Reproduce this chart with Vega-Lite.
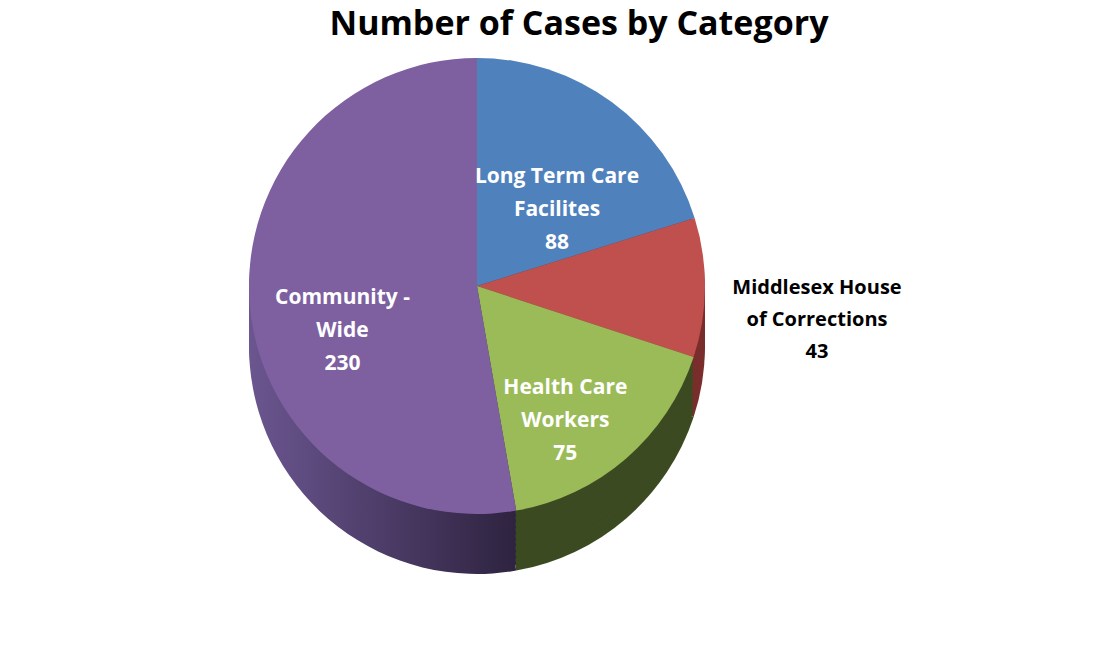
{
  "$schema": "https://vega.github.io/schema/vega-lite/v6.json",
  "width": 954,
  "height": 452,
  "autosize": "none",
  "padding": {"left": 0, "top": 60, "right": 166, "bottom": 138},
  "background": "white",
  "config": {"view": {"stroke": null}},
  "title": {
    "text": "Number of Cases by Category",
    "font": "Open Sans",
    "fontSize": 34,
    "fontWeight": "bold",
    "color": "#000000",
    "dx": 102,
    "dy": 60,
    "offset": 20
  },
  "data": {
    "values": [
      {"category": "Long Term Care Facilites", "cases": 88, "order": 1, "label": "Long Term Care\nFacilites\n88"},
      {"category": "Middlesex House of Corrections", "cases": 43, "order": 2, "label": "Middlesex House\nof Corrections\n43"},
      {"category": "Health Care Workers", "cases": 75, "order": 3, "label": "Health Care\nWorkers\n75"},
      {"category": "Community - Wide", "cases": 230, "order": 4, "label": "Community -\nWide\n230"}
    ]
  },
  "encoding": {
    "theta": {"field": "cases", "type": "quantitative", "stack": true},
    "order": {"field": "order", "type": "quantitative"}
  },
  "layer": [
    {"mark": {"type": "arc", "radius": 228, "yOffset": 60}, "encoding": {"color": {"condition": {"test": "datum.category === 'Community - Wide'", "value": {"gradient": "linear", "x1": 0, "y1": 0, "x2": 1, "y2": 0, "stops": [{"offset": 0, "color": "#6b5690"}, {"offset": 1, "color": "#2e2340"}]}}, "field": "category", "type": "nominal", "legend": null, "scale": {"domain": ["Long Term Care Facilites", "Middlesex House of Corrections", "Health Care Workers", "Community - Wide"], "range": ["#2c4a6e", "#7a2e2c", "#3c4a21", "#4a3a66"]}}}},
    {"mark": {"type": "arc", "radius": 228, "yOffset": 54}, "encoding": {"color": {"condition": {"test": "datum.category === 'Community - Wide'", "value": {"gradient": "linear", "x1": 0, "y1": 0, "x2": 1, "y2": 0, "stops": [{"offset": 0, "color": "#6b5690"}, {"offset": 1, "color": "#2e2340"}]}}, "field": "category", "type": "nominal", "legend": null, "scale": {"domain": ["Long Term Care Facilites", "Middlesex House of Corrections", "Health Care Workers", "Community - Wide"], "range": ["#2c4a6e", "#7a2e2c", "#3c4a21", "#4a3a66"]}}}},
    {"mark": {"type": "arc", "radius": 228, "yOffset": 48}, "encoding": {"color": {"condition": {"test": "datum.category === 'Community - Wide'", "value": {"gradient": "linear", "x1": 0, "y1": 0, "x2": 1, "y2": 0, "stops": [{"offset": 0, "color": "#6b5690"}, {"offset": 1, "color": "#2e2340"}]}}, "field": "category", "type": "nominal", "legend": null, "scale": {"domain": ["Long Term Care Facilites", "Middlesex House of Corrections", "Health Care Workers", "Community - Wide"], "range": ["#2c4a6e", "#7a2e2c", "#3c4a21", "#4a3a66"]}}}},
    {"mark": {"type": "arc", "radius": 228, "yOffset": 42}, "encoding": {"color": {"condition": {"test": "datum.category === 'Community - Wide'", "value": {"gradient": "linear", "x1": 0, "y1": 0, "x2": 1, "y2": 0, "stops": [{"offset": 0, "color": "#6b5690"}, {"offset": 1, "color": "#2e2340"}]}}, "field": "category", "type": "nominal", "legend": null, "scale": {"domain": ["Long Term Care Facilites", "Middlesex House of Corrections", "Health Care Workers", "Community - Wide"], "range": ["#2c4a6e", "#7a2e2c", "#3c4a21", "#4a3a66"]}}}},
    {"mark": {"type": "arc", "radius": 228, "yOffset": 36}, "encoding": {"color": {"condition": {"test": "datum.category === 'Community - Wide'", "value": {"gradient": "linear", "x1": 0, "y1": 0, "x2": 1, "y2": 0, "stops": [{"offset": 0, "color": "#6b5690"}, {"offset": 1, "color": "#2e2340"}]}}, "field": "category", "type": "nominal", "legend": null, "scale": {"domain": ["Long Term Care Facilites", "Middlesex House of Corrections", "Health Care Workers", "Community - Wide"], "range": ["#2c4a6e", "#7a2e2c", "#3c4a21", "#4a3a66"]}}}},
    {"mark": {"type": "arc", "radius": 228, "yOffset": 30}, "encoding": {"color": {"condition": {"test": "datum.category === 'Community - Wide'", "value": {"gradient": "linear", "x1": 0, "y1": 0, "x2": 1, "y2": 0, "stops": [{"offset": 0, "color": "#6b5690"}, {"offset": 1, "color": "#2e2340"}]}}, "field": "category", "type": "nominal", "legend": null, "scale": {"domain": ["Long Term Care Facilites", "Middlesex House of Corrections", "Health Care Workers", "Community - Wide"], "range": ["#2c4a6e", "#7a2e2c", "#3c4a21", "#4a3a66"]}}}},
    {"mark": {"type": "arc", "radius": 228, "yOffset": 24}, "encoding": {"color": {"condition": {"test": "datum.category === 'Community - Wide'", "value": {"gradient": "linear", "x1": 0, "y1": 0, "x2": 1, "y2": 0, "stops": [{"offset": 0, "color": "#6b5690"}, {"offset": 1, "color": "#2e2340"}]}}, "field": "category", "type": "nominal", "legend": null, "scale": {"domain": ["Long Term Care Facilites", "Middlesex House of Corrections", "Health Care Workers", "Community - Wide"], "range": ["#2c4a6e", "#7a2e2c", "#3c4a21", "#4a3a66"]}}}},
    {"mark": {"type": "arc", "radius": 228, "yOffset": 18}, "encoding": {"color": {"condition": {"test": "datum.category === 'Community - Wide'", "value": {"gradient": "linear", "x1": 0, "y1": 0, "x2": 1, "y2": 0, "stops": [{"offset": 0, "color": "#6b5690"}, {"offset": 1, "color": "#2e2340"}]}}, "field": "category", "type": "nominal", "legend": null, "scale": {"domain": ["Long Term Care Facilites", "Middlesex House of Corrections", "Health Care Workers", "Community - Wide"], "range": ["#2c4a6e", "#7a2e2c", "#3c4a21", "#4a3a66"]}}}},
    {"mark": {"type": "arc", "radius": 228, "yOffset": 12}, "encoding": {"color": {"condition": {"test": "datum.category === 'Community - Wide'", "value": {"gradient": "linear", "x1": 0, "y1": 0, "x2": 1, "y2": 0, "stops": [{"offset": 0, "color": "#6b5690"}, {"offset": 1, "color": "#2e2340"}]}}, "field": "category", "type": "nominal", "legend": null, "scale": {"domain": ["Long Term Care Facilites", "Middlesex House of Corrections", "Health Care Workers", "Community - Wide"], "range": ["#2c4a6e", "#7a2e2c", "#3c4a21", "#4a3a66"]}}}},
    {"mark": {"type": "arc", "radius": 228, "yOffset": 6}, "encoding": {"color": {"condition": {"test": "datum.category === 'Community - Wide'", "value": {"gradient": "linear", "x1": 0, "y1": 0, "x2": 1, "y2": 0, "stops": [{"offset": 0, "color": "#6b5690"}, {"offset": 1, "color": "#2e2340"}]}}, "field": "category", "type": "nominal", "legend": null, "scale": {"domain": ["Long Term Care Facilites", "Middlesex House of Corrections", "Health Care Workers", "Community - Wide"], "range": ["#2c4a6e", "#7a2e2c", "#3c4a21", "#4a3a66"]}}}},
    {"mark": {"type": "arc", "radius": 228}, "encoding": {"color": {"field": "category", "type": "nominal", "legend": null, "scale": {"domain": ["Long Term Care Facilites", "Middlesex House of Corrections", "Health Care Workers", "Community - Wide"], "range": ["#4f81bd", "#c0504d", "#9bbb59", "#7e60a0"]}}}},
    {
      "mark": {"type": "text", "radius": 135, "font": "Open Sans", "fontSize": 21, "fontWeight": "bold", "color": "#ffffff", "lineBreak": "\n", "lineHeight": 33, "align": "center", "baseline": "middle"},
      "encoding": {
        "text": {"field": "label", "type": "nominal"},
        "opacity": {"condition": {"test": "datum.category === 'Middlesex House of Corrections'", "value": 0}, "value": 1}
      }
    },
    {
      "mark": {"type": "text", "radius": 340, "font": "Open Sans", "fontSize": 20, "fontWeight": "bold", "color": "#000000", "lineBreak": "\n", "lineHeight": 32, "align": "center", "baseline": "middle"},
      "encoding": {
        "text": {"field": "label", "type": "nominal"},
        "opacity": {"condition": {"test": "datum.category === 'Middlesex House of Corrections'", "value": 1}, "value": 0}
      }
    }
  ],
  "resolve": {"scale": {"color": "independent"}}
}
